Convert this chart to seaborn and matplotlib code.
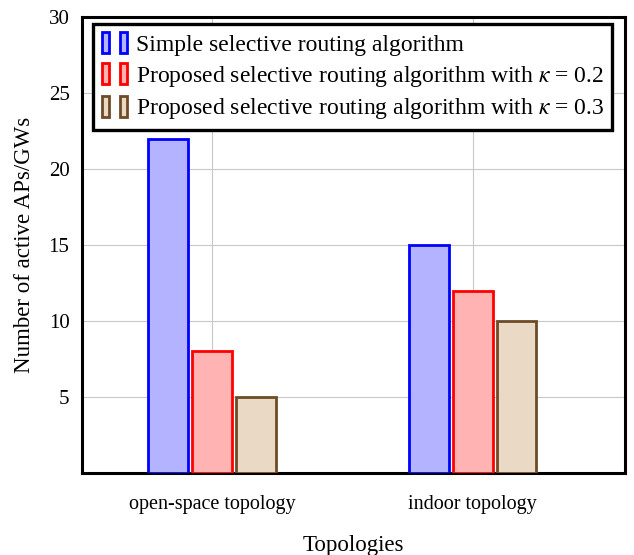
import matplotlib
matplotlib.use("Agg")
import matplotlib.pyplot as plt
import seaborn as sns
import pandas as pd
from matplotlib.patches import Rectangle
from matplotlib.legend_handler import HandlerTuple

categories = ["open-space topology", "indoor topology"]
series = ["Simple selective routing algorithm",
          "Proposed selective routing algorithm with $\\kappa$ = 0.2",
          "Proposed selective routing algorithm with $\\kappa$ = 0.3"]
simple_vals = [22, 15]
k02_vals = [8, 12]
k03_vals = [5, 10]
yticks = [5, 10, 15, 20, 25, 30]

fills = ["#B3B3FF", "#FFB3B3", "#EAD9C5"]
edges = ["#0000FF", "#FF0000", "#6E4B28"]

rows = []
for s, vals in zip(series, [simple_vals, k02_vals, k03_vals]):
    for c, v in zip(categories, vals):
        rows.append({"Topology": c, "Series": s, "Value": v})
df = pd.DataFrame(rows)

sns.set_style("white")
plt.rcParams["font.family"] = ["Liberation Serif", "DejaVu Serif"]
plt.rcParams["mathtext.fontset"] = "stix"
plt.rcParams["text.color"] = "black"
plt.rcParams["axes.labelcolor"] = "black"
plt.rcParams["xtick.color"] = "black"
plt.rcParams["ytick.color"] = "black"

fig = plt.figure(figsize=(6.34, 5.55), dpi=100)
ax = fig.add_axes([82/634, 1-473/555, (625-82)/634, (473-17)/555])

sns.barplot(data=df, x="Topology", y="Value", hue="Series", order=categories,
            hue_order=series, palette=fills, saturation=1, width=0.506, gap=0.094,
            ax=ax, legend=False, zorder=3)

for i, cont in enumerate(ax.containers):
    for p in cont:
        p.set_edgecolor(edges[i])
        p.set_linewidth(2.0)

ax.set_xlim(-0.5, 1.585)
ax.set_ylim(0, 30)
ax.set_yticks(yticks)
ax.set_yticklabels([str(t) for t in yticks])
ax.grid(True, color="#c8c8c8", linewidth=0.8, zorder=0)
ax.set_axisbelow(True)
for s in ax.spines.values():
    s.set_visible(True)
    s.set_color("black")
    s.set_linewidth(2.2)
ax.tick_params(axis="y", direction="in", length=6, width=1.2, color="#777777",
               labelcolor="black", labelsize=15, pad=9)
ax.tick_params(axis="x", direction="out", length=8, width=1.2, color="#777777",
               labelcolor="black", labelsize=14.5, pad=8)
ax.set_xlabel("Topologies", fontsize=16.5, labelpad=15)
ax.set_ylabel("Number of active APs/GWs", fontsize=16.5, labelpad=10)

handles = []
for f, e in zip(fills, edges):
    r1 = Rectangle((0, 0), 1, 1, facecolor=f, edgecolor=e, linewidth=2.0)
    r2 = Rectangle((0, 0), 1, 1, facecolor=f, edgecolor=e, linewidth=2.0)
    handles.append((r1, r2))
leg = ax.legend(handles, series, handler_map={tuple: HandlerTuple(ndivide=None, pad=0.5)},
                loc="upper left", bbox_to_anchor=(0.012, 0.995), fontsize=17,
                frameon=True, fancybox=False, framealpha=1.0, handlelength=1.1,
                handleheight=1.0, handletextpad=0.35, labelspacing=0.3,
                borderpad=0.35, borderaxespad=0.2)
leg.get_frame().set_edgecolor("black")
leg.get_frame().set_linewidth(2.4)
leg.set_zorder(5)

fig.savefig("out.png", dpi=100)
